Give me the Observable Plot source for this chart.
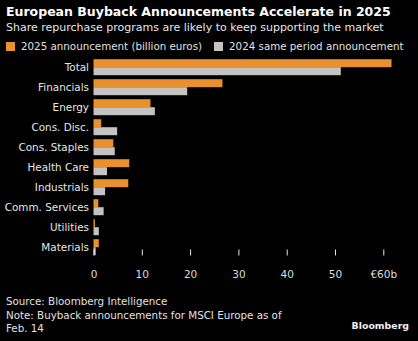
<!DOCTYPE html>
<html>
<head>
<meta charset="utf-8">
<script src="https://cdn.jsdelivr.net/npm/d3@7"></script>
<script src="https://cdn.jsdelivr.net/npm/@observablehq/plot@0.6"></script>
<style>
  html, body { margin: 0; padding: 0; background: #000; }
  body { width: 418px; height: 341px; overflow: hidden; font-family: "DejaVu Sans", sans-serif; color: #e6e6e6; position: relative; }
  .title { position: absolute; left: 6px; top: 4px; font-weight: bold; font-size: 12.5px; color: #fff; white-space: nowrap; }
  .subtitle { position: absolute; left: 6px; top: 21px; font-size: 11px; color: #e6e6e6; white-space: nowrap; }
  .legend { position: absolute; left: 6px; top: 40px; font-size: 10.3px; color: #e0e0e0; white-space: nowrap; display: flex; align-items: center; }
  .legend .sw { display: inline-block; width: 9px; height: 9px; margin-right: 6px; }
  .legend .item { display: flex; align-items: center; margin-right: 12px; }
  #chart { position: absolute; left: 0; top: 56.5px; line-height: 0; }
  .footer { position: absolute; left: 6px; top: 295px; font-size: 10.3px; line-height: 13.6px; color: #e0e0e0; white-space: nowrap; }
  .brand { position: absolute; right: 9px; top: 320px; font-size: 9.4px; font-weight: bold; color: #f0f0f0; }
</style>
</head>
<body>
<div class="title">European Buyback Announcements Accelerate in 2025</div>
<div class="subtitle">Share repurchase programs are likely to keep supporting the market</div>
<div class="legend" id="legend"></div>
<div id="chart"></div>
<div class="footer">Source: Bloomberg Intelligence<br>Note: Buyback announcements for MSCI Europe as of<br>Feb. 14</div>
<div class="brand">Bloomberg</div>
<script>
const categories = ["Total", "Financials", "Energy", "Cons. Disc.", "Cons. Staples", "Health Care", "Industrials", "Comm. Services", "Utilities", "Materials"];
const series = ["2025 announcement (billion euros)", "2024 same period announcement"];
const values2025 = [61.7, 26.7, 11.8, 1.6, 4.1, 7.4, 7.2, 1.0, 0.3, 1.1];
const values2024 = [51.2, 19.4, 12.7, 4.9, 4.4, 2.8, 2.4, 2.1, 1.1, 0.45];
const xTicks = [0, 10, 20, 30, 40, 50, 60];
const xTickLabels = ["0", "10", "20", "30", "40", "50", "€60b"];
const colors = ["#e8912e", "#c3c3c3"];

const data = [];
categories.forEach((c, i) => {
  data.push({category: c, series: series[0], value: values2025[i]});
  data.push({category: c, series: series[1], value: values2024[i]});
});

const legend = document.getElementById("legend");
series.forEach((s, i) => {
  const item = document.createElement("span");
  item.className = "item";
  const sw = document.createElement("span");
  sw.className = "sw";
  sw.style.background = colors[i];
  item.appendChild(sw);
  item.appendChild(document.createTextNode(s));
  legend.appendChild(item);
});

const chart = Plot.plot({
  width: 418,
  height: 227,
  marginTop: 0.8,
  marginBottom: 25.5,
  marginLeft: 93.5,
  marginRight: 34.7,
  style: {background: "#000", color: "#dcdcdc", fontFamily: "DejaVu Sans, sans-serif", fontSize: "10.5px"},
  x: {domain: [0, 60]},
  y: {domain: series, axis: null, padding: 0},
  fy: {domain: categories, padding: 0.13, label: null},
  color: {domain: series, range: colors},
  marks: [
    Plot.barX(data, {x: "value", y: "series", fy: "category", fill: "series"}),
    Plot.axisFy({anchor: "left", tickSize: 0, tickPadding: 5, label: null, fontSize: 10.4, fill: "#e6e6e6"}),
    Plot.axisX({ticks: xTicks, tickFormat: d => xTickLabels[xTicks.indexOf(d)], tickSize: 6, tickPadding: 15, dy: -6.5, label: null, stroke: "#e6e6e6", fill: "#dcdcdc"})
  ]
});
document.getElementById("chart").appendChild(chart);
</script>
</body>
</html>
